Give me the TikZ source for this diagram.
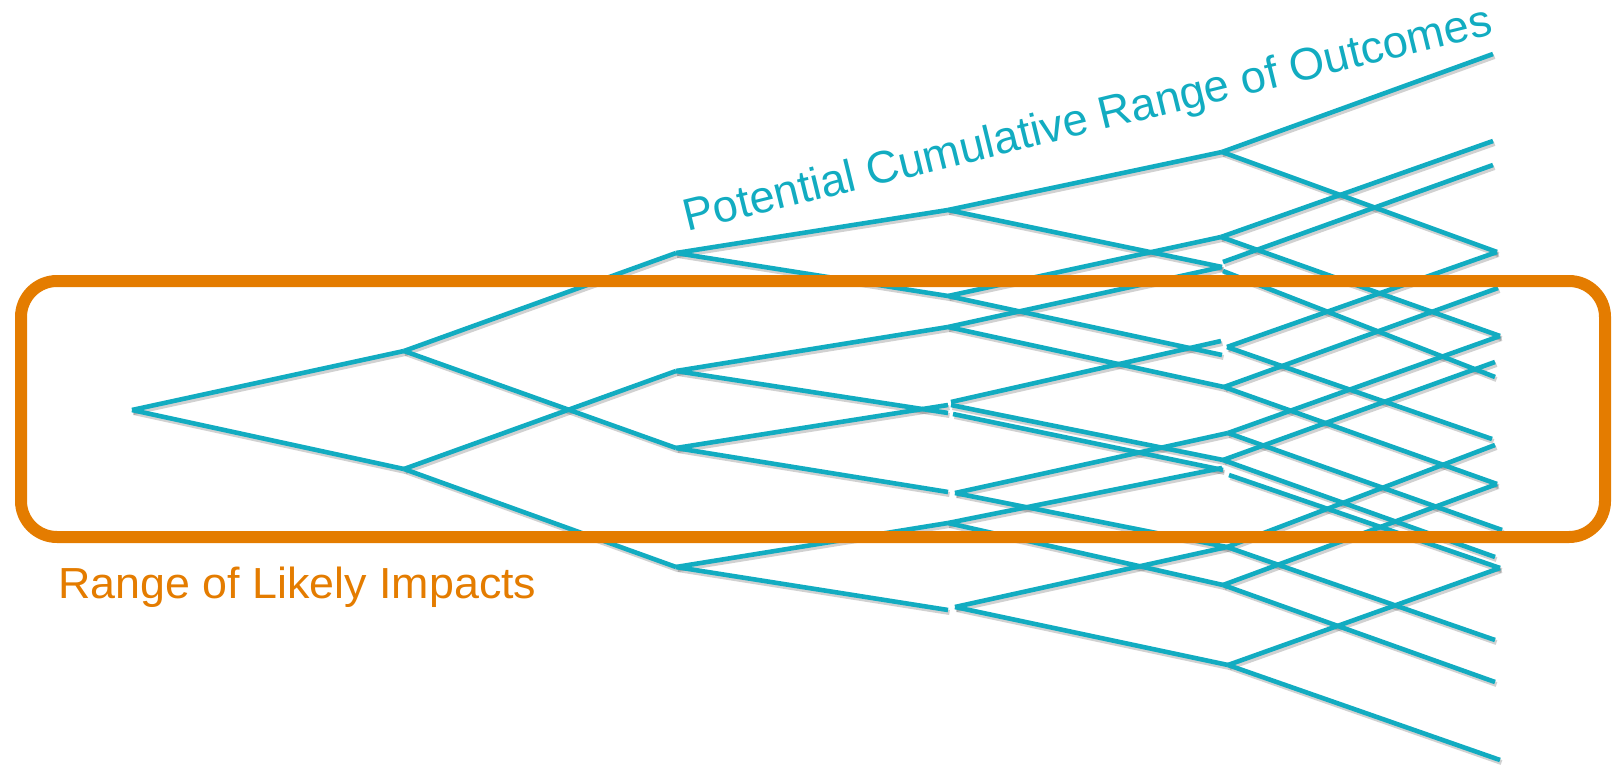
\documentclass[tikz,border=0pt]{standalone}
\usepackage{fontspec}
\setmainfont{Liberation Sans}
\definecolor{tealA}{RGB}{18,172,193}
\definecolor{orangeA}{RGB}{228,124,0}
\tikzset{
  branch/.style={draw=tealA, line width=4.6pt},
  branchshadow/.style={draw=black, opacity=0.18, line width=5pt},
  rangebox/.style={draw=orangeA, line width=12pt, rounded corners=36pt},
  titlelabel/.style={text=tealA, inner sep=0pt, anchor=base west, font=\fontsize{45.3}{50}\selectfont},
  rangelabel/.style={text=orangeA, inner sep=0pt, anchor=base west, font=\fontsize{43.5}{48}\selectfont}
}
\begin{document}
\begin{tikzpicture}[x=1pt,y=-1pt]
\useasboundingbox (0,0) rectangle (1612,765);
% level 0-2
\coordinate (R) at (132,410);
\coordinate (A1) at (404,351);
\coordinate (A2) at (404,469);
\coordinate (B1) at (676,253);
\coordinate (B2) at (676,371);
\coordinate (B3) at (676,448);
\coordinate (B4) at (676,567);
% level 3
\coordinate (C1) at (948,210);
\coordinate (C2) at (948,296);
\coordinate (C3) at (948,327);
\coordinate (C4a) at (948,405);
\coordinate (C4b) at (948,413);
\coordinate (C4u) at (951,402);
\coordinate (C4d) at (951,405);
\coordinate (C4e) at (953,414);
\coordinate (C5i) at (948,492);
\coordinate (C5) at (955,493);
\coordinate (C6) at (948,523);
\coordinate (C7i) at (948,610);
\coordinate (C7) at (955,607);
% level 4
\coordinate (D1) at (1222,152);
\coordinate (D2) at (1221,237);
\coordinate (D3i) at (1222,267);
\coordinate (D3u) at (1223,262);
\coordinate (D3d) at (1223,271);
\coordinate (D4i) at (1221,341);
\coordinate (D4j) at (1222,355);
\coordinate (D4) at (1227,347);
\coordinate (D5) at (1224,387);
\coordinate (D6) at (1228,433);
\coordinate (D7) at (1223,460);
\coordinate (D8i) at (1223,470);
\coordinate (D8j) at (1222,468);
\coordinate (D8) at (1229,475);
\coordinate (D9) at (1227,547);
\coordinate (D10) at (1223,585);
\coordinate (D11) at (1228,665);
% ends
\coordinate (E1) at (1493,54);
\coordinate (E2) at (1493,141);
\coordinate (E3) at (1493,165);
\coordinate (E4) at (1497,252);
\coordinate (E5) at (1498,288);
\coordinate (E6) at (1500,336);
\coordinate (E7) at (1495,362);
\coordinate (E8) at (1495,377);
\coordinate (E9) at (1492,439);
\coordinate (E10) at (1495,445);
\coordinate (E11) at (1497,484);
\coordinate (E12) at (1502,530);
\coordinate (E13) at (1495,557);
\coordinate (E14) at (1500,568);
\coordinate (E15) at (1495,640);
\coordinate (E16) at (1495,682);
\coordinate (E17) at (1500,760);
\def\edgelist{R/A1,R/A2,A1/B1,A1/B3,A2/B2,A2/B4,
B1/C1,B1/C2,B2/C3,B2/C4b,B3/C4a,B3/C5i,B4/C6,B4/C7i,
C1/D1,C1/D3i,C2/D2,C2/D4j,C3/D3i,C3/D5,C4u/D4i,C4d/D7,C4e/D8i,C5/D6,C5/D9,C6/D8j,C6/D10,C7/D9,C7/D11,
D1/E1,D1/E4,D2/E2,D2/E6,D3u/E3,D3d/E8,D4/E4,D4/E9,D5/E5,D5/E11,D6/E6,D6/E12,D7/E7,D7/E13,D8/E14,D9/E10,D9/E15,D10/E11,D10/E16,D11/E14,D11/E17}
\begin{scope}[transform canvas={xshift=1.5pt,yshift=-2.5pt}]
\foreach \a/\b in \edgelist { \draw[branchshadow] (\a) -- (\b); }
\end{scope}
\foreach \a/\b in \edgelist { \draw[branch] (\a) -- (\b); }
% range box
\draw[rangebox] (21,281) rectangle (1605,537);
% labels
\node[titlelabel, rotate=13.8] (title) at (687,232) {Potential Cumulative Range of Outcomes};
\node[rangelabel] (range) at (58,598) {\scalebox{1.03}[1]{Range of Likely Impacts}};
\end{tikzpicture}
\end{document}
